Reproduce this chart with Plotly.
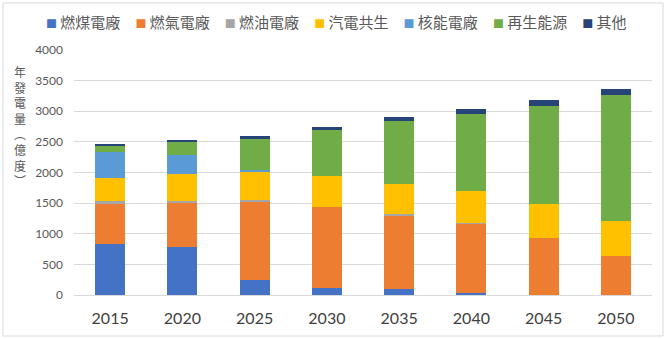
import plotly.graph_objects as go

years = ["2015", "2020", "2025", "2030", "2035", "2040", "2045", "2050"]
series_names = ["燃煤電廠", "燃氣電廠", "燃油電廠", "汽電共生", "核能電廠", "再生能源", "其他"]
coal = [835, 780, 247, 110, 93, 27, 0, 0]
gas = [643, 731, 1286, 1326, 1212, 1134, 927, 638]
oil = [60, 22, 22, 0, 22, 22, 0, 0]
cogen = [380, 445, 456, 505, 493, 513, 551, 567]
nuclear = [417, 313, 33, 0, 0, 0, 0, 0]
renewable = [99, 209, 505, 745, 1014, 1259, 1614, 2067]
other = [22, 22, 55, 55, 72, 82, 87, 92]
y_tick_vals = [0, 500, 1000, 1500, 2000, 2500, 3000, 3500, 4000]
y_title_chars = ["年", "發", "電", "量", "︵", "億", "度", "︶"]

series_values = [coal, gas, oil, cogen, nuclear, renewable, other]
colors = ["#4472C4", "#ED7D31", "#A5A5A5", "#FFC000", "#5B9BD5", "#70AD47", "#264478"]

W, H = 666, 339
ML, MR, MT, MB = 74, 14, 50, 44
PW, PH = W - ML - MR, H - MT - MB

def px_to_paper_x(px):
    return (px - ML) / PW

def px_to_paper_y(py):
    return (H - MB - py) / PH

CJK = "Noto Sans CJK TC"
NUM = "Lato, Noto Sans CJK TC"

fig = go.Figure()
for name, vals, col in zip(series_names, series_values, colors):
    fig.add_trace(go.Bar(x=years, y=vals, name=name, marker=dict(color=col, line=dict(width=0)),
                         showlegend=False))

# legend as a single line of text built from the series
items = []
for name, col in zip(series_names, colors):
    items.append(f"<span style='color:{col};font-size:11px'>■</span> {name}")
legend_text = "\u2003".join(items)

annotations = [dict(text=legend_text, xref="paper", yref="paper",
                    x=px_to_paper_x(W / 2 + 3), y=px_to_paper_y(22),
                    xanchor="center", yanchor="middle", showarrow=False,
                    font=dict(family=CJK, size=15, color="#595959"))]

# vertical y-axis title: upright glyphs stacked one per line
annotations.append(dict(text="<br>".join(y_title_chars), xref="paper", yref="paper",
                        x=px_to_paper_x(19.5), y=px_to_paper_y(126),
                        xanchor="center", yanchor="middle", showarrow=False,
                        font=dict(family=CJK, size=12, color="#595959")))

fig.update_layout(
    width=W, height=H,
    margin=dict(l=ML, r=MR, t=MT, b=MB, pad=0),
    barmode="stack",
    bargap=0.585,
    plot_bgcolor="white",
    paper_bgcolor="white",
    showlegend=False,
    annotations=annotations,
    shapes=[dict(type="rect", xref="paper", yref="paper",
                 x0=px_to_paper_x(3), x1=px_to_paper_x(663),
                 y0=px_to_paper_y(336), y1=px_to_paper_y(3),
                 line=dict(color="#D9D9D9", width=1), fillcolor="rgba(0,0,0,0)", layer="below")],
)
fig.update_xaxes(type="category", showgrid=False, showline=False, ticks="",
                 tickfont=dict(family=NUM, size=16, color="#404040"), ticklabelstandoff=12)
fig.update_yaxes(range=[0, 4000], tickvals=y_tick_vals, showgrid=True, gridcolor="#D9D9D9", gridwidth=1,
                 zeroline=True, zerolinecolor="#D9D9D9", zerolinewidth=1, showline=False, ticks="",
                 tickfont=dict(family=NUM, size=12, color="#595959"), ticklabelstandoff=10)

fig.write_html("out.html")
